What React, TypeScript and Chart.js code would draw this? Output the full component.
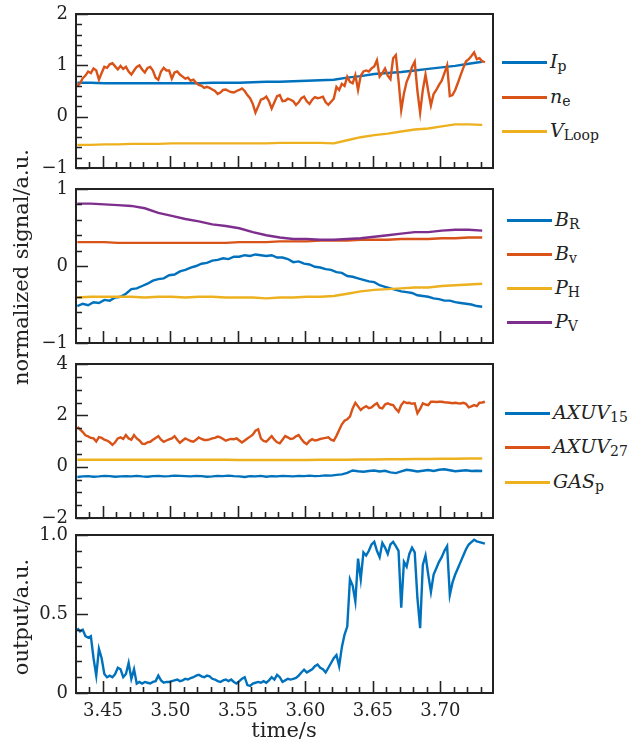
import React, { useEffect, useRef } from 'react';
import { Chart, registerables } from 'chart.js';
Chart.register(...registerables);

// ---------- time bases ----------
const T0 = 3.431;
const STEP_FINE = 0.002; // 152 samples
const STEP_MED = 0.004; // 76 samples
const STEP_COARSE = 0.01; // 31 samples

// ---------- panel 1 ----------
const IP = [0.66, 0.66, 0.65, 0.65, 0.65, 0.65, 0.65, 0.65, 0.65, 0.65, 0.66, 0.66, 0.66, 0.67, 0.68, 0.68, 0.69, 0.70, 0.71, 0.72, 0.76, 0.79, 0.83, 0.85, 0.87, 0.90, 0.93, 0.96, 0.99, 1.03, 1.07];
const NE = [
  0.60, 0.65, 0.75, 0.80, 0.88, 0.85, 0.94, 0.90, 0.72, 0.85,
  0.97, 0.95, 1.02, 1.04, 0.98, 0.92, 0.99, 0.93, 0.97, 0.88,
  0.82, 0.90, 0.97, 1.00, 0.92, 0.86, 0.95, 0.97, 0.90, 0.76,
  0.72, 0.88, 0.95, 0.90, 0.90, 0.74, 0.86, 0.88, 0.82, 0.78,
  0.74, 0.76, 0.70, 0.72, 0.66, 0.62, 0.60, 0.56, 0.58, 0.56,
  0.53, 0.50, 0.44, 0.47, 0.52, 0.53, 0.50, 0.48, 0.47, 0.50,
  0.52, 0.55, 0.50, 0.42, 0.36, 0.25, 0.08, 0.20, 0.33, 0.35,
  0.39, 0.30, 0.16, 0.28, 0.40, 0.42, 0.30, 0.31, 0.35, 0.33,
  0.30, 0.23, 0.28, 0.36, 0.39, 0.30, 0.25, 0.33, 0.38, 0.36,
  0.37, 0.39, 0.28, 0.23, 0.29, 0.35, 0.58, 0.52, 0.64, 0.60,
  0.78, 0.68, 0.65, 0.81, 0.52, 0.80, 0.88, 0.90, 0.88, 0.94,
  0.98, 1.10, 0.78, 0.85, 0.94, 0.80, 0.73, 1.14, 1.20, 0.70,
  0.13, 0.45, 0.68, 0.80, 0.97, 1.07, 0.50, 0.08, 0.52, 0.82,
  0.50, 0.22, 0.44, 0.52, 0.62, 0.70, 0.85, 1.00, 0.40, 0.42,
  0.52, 0.66, 0.81, 0.95, 1.08, 1.12, 1.18, 1.25, 1.12, 1.14,
  1.08, 1.06,
];
const VLOOP = [-0.55, -0.55, -0.54, -0.54, -0.53, -0.53, -0.53, -0.52, -0.52, -0.52, -0.52, -0.52, -0.52, -0.52, -0.52, -0.51, -0.51, -0.51, -0.51, -0.52, -0.46, -0.40, -0.36, -0.33, -0.29, -0.25, -0.23, -0.19, -0.15, -0.15, -0.16];

// ---------- panel 2 ----------
const BR = [
  -0.52, -0.49, -0.51, -0.47, -0.48, -0.44, -0.45, -0.41, -0.40, -0.36,
  -0.30, -0.29, -0.26, -0.23, -0.19, -0.17, -0.16, -0.12, -0.11, -0.07,
  -0.05, -0.02, 0.00, 0.03, 0.04, 0.07, 0.08, 0.10, 0.09, 0.12,
  0.12, 0.14, 0.13, 0.15, 0.14, 0.13, 0.14, 0.11, 0.11, 0.09,
  0.05, 0.06, 0.03, 0.02, -0.01, -0.02, -0.04, -0.05, -0.08, -0.09,
  -0.13, -0.14, -0.16, -0.18, -0.20, -0.21, -0.25, -0.27, -0.29, -0.31,
  -0.33, -0.34, -0.35, -0.38, -0.39, -0.40, -0.42, -0.43, -0.45, -0.45,
  -0.47, -0.48, -0.49, -0.50, -0.52, -0.53,
];
const BV = [0.31, 0.31, 0.31, 0.30, 0.30, 0.30, 0.30, 0.30, 0.30, 0.30, 0.30, 0.30, 0.31, 0.31, 0.31, 0.32, 0.32, 0.32, 0.33, 0.33, 0.33, 0.34, 0.34, 0.34, 0.35, 0.35, 0.35, 0.36, 0.36, 0.37, 0.37];
const PH = [-0.41, -0.40, -0.40, -0.40, -0.40, -0.41, -0.40, -0.40, -0.41, -0.40, -0.40, -0.41, -0.41, -0.41, -0.42, -0.41, -0.41, -0.40, -0.40, -0.39, -0.36, -0.33, -0.31, -0.30, -0.29, -0.28, -0.28, -0.26, -0.25, -0.24, -0.23];
const PV = [0.81, 0.81, 0.80, 0.79, 0.78, 0.75, 0.69, 0.65, 0.61, 0.58, 0.54, 0.52, 0.49, 0.44, 0.40, 0.37, 0.35, 0.35, 0.34, 0.34, 0.35, 0.36, 0.38, 0.40, 0.42, 0.44, 0.44, 0.46, 0.47, 0.47, 0.46];

// ---------- panel 3 ----------
const AXUV15 = [
  -0.40, -0.38, -0.37, -0.39, -0.38, -0.36, -0.37, -0.39, -0.38, -0.37,
  -0.38, -0.36, -0.38, -0.39, -0.37, -0.36, -0.38, -0.37, -0.35, -0.36,
  -0.37, -0.38, -0.36, -0.37, -0.39, -0.38, -0.36, -0.37, -0.35, -0.37,
  -0.38, -0.40, -0.37, -0.38, -0.36, -0.39, -0.37, -0.38, -0.36, -0.37,
  -0.38, -0.36, -0.37, -0.35, -0.37, -0.36, -0.34, -0.35, -0.32, -0.30,
  -0.24, -0.15, -0.18, -0.20, -0.17, -0.15, -0.19, -0.16, -0.22, -0.25,
  -0.18, -0.12, -0.15, -0.19, -0.16, -0.13, -0.17, -0.12, -0.10, -0.14,
  -0.18, -0.16, -0.14, -0.17, -0.16, -0.17,
];
const AXUV27 = [
  1.55, 1.45, 1.35, 1.22, 1.18, 1.12, 1.10, 0.98, 1.15, 1.12,
  1.05, 1.02, 0.95, 0.85, 0.95, 1.10, 1.14, 1.08, 1.23, 1.10,
  1.05, 1.23, 1.10, 1.02, 0.90, 0.88, 0.95, 0.97, 1.05, 1.12,
  1.19, 1.05, 0.97, 1.02, 1.06, 1.10, 1.19, 1.05, 0.93, 1.02,
  1.10, 1.05, 1.00, 0.97, 1.05, 1.14, 1.08, 1.04, 1.04, 1.06,
  1.10, 1.12, 1.17, 1.14, 1.08, 1.01, 1.05, 1.08, 1.07, 1.10,
  1.02, 0.94, 1.02, 1.10, 1.17, 1.25, 1.40, 1.46, 1.10, 1.00,
  0.97, 1.08, 1.19, 1.05, 0.95, 0.91, 1.05, 1.19, 1.14, 1.08,
  1.10, 1.18, 1.23, 1.08, 0.95, 0.88, 1.00, 1.07, 1.02, 1.04,
  1.08, 1.10, 1.12, 1.14, 1.05, 1.01, 1.20, 1.43, 1.65, 1.79,
  1.85, 1.95, 2.27, 2.49, 2.35, 2.21, 2.30, 2.36, 2.28, 2.31,
  2.40, 2.47, 2.30, 2.27, 2.42, 2.47, 2.42, 2.40, 2.25, 2.14,
  2.40, 2.53, 2.48, 2.49, 2.45, 2.47, 2.08, 2.25, 2.47, 2.42,
  2.40, 2.53, 2.53, 2.52, 2.53, 2.53, 2.51, 2.50, 2.49, 2.47,
  2.49, 2.47, 2.46, 2.49, 2.45, 2.31, 2.35, 2.40, 2.36, 2.49,
  2.50, 2.53,
];
const GASP = [0.27, 0.27, 0.27, 0.27, 0.27, 0.27, 0.27, 0.27, 0.27, 0.27, 0.27, 0.27, 0.26, 0.26, 0.26, 0.26, 0.26, 0.26, 0.27, 0.27, 0.27, 0.28, 0.28, 0.29, 0.29, 0.30, 0.30, 0.31, 0.31, 0.32, 0.32];

// ---------- panel 4 ----------
const OUTPUT = [
  0.41, 0.39, 0.40, 0.36, 0.35, 0.36, 0.22, 0.11, 0.28, 0.22,
  0.12, 0.10, 0.11, 0.10, 0.12, 0.16, 0.15, 0.10, 0.12, 0.19,
  0.09, 0.15, 0.06, 0.07, 0.06, 0.07, 0.065, 0.06, 0.07, 0.075,
  0.11, 0.08, 0.065, 0.07, 0.07, 0.075, 0.08, 0.085, 0.075, 0.08,
  0.09, 0.085, 0.095, 0.10, 0.11, 0.115, 0.105, 0.10, 0.11, 0.105,
  0.09, 0.085, 0.075, 0.07, 0.08, 0.085, 0.075, 0.085, 0.07, 0.06,
  0.075, 0.09, 0.10, 0.05, 0.045, 0.06, 0.065, 0.07, 0.065, 0.075,
  0.065, 0.08, 0.10, 0.085, 0.115, 0.10, 0.07, 0.08, 0.09, 0.085,
  0.09, 0.095, 0.11, 0.13, 0.147, 0.13, 0.14, 0.15, 0.17, 0.18,
  0.16, 0.15, 0.13, 0.16, 0.19, 0.22, 0.24, 0.17, 0.29, 0.37,
  0.42, 0.72, 0.68, 0.58, 0.85, 0.72, 0.89, 0.87, 0.90, 0.94,
  0.957, 0.90, 0.86, 0.95, 0.92, 0.88, 0.94, 0.957, 0.93, 0.90,
  0.54, 0.83, 0.80, 0.88, 0.92, 0.89, 0.60, 0.41, 0.81, 0.87,
  0.75, 0.64, 0.75, 0.79, 0.83, 0.86, 0.90, 0.93, 0.62, 0.70,
  0.75, 0.79, 0.83, 0.87, 0.91, 0.94, 0.955, 0.97, 0.96, 0.955,
  0.95, 0.945,
];

// ---------- axes ----------
const X_MIN = 3.43;
const X_MAX = 3.739;
const X_TICKS = [3.45, 3.5, 3.55, 3.6, 3.65, 3.7];
const X_TICK_LABELS = ['3.45', '3.50', '3.55', '3.60', '3.65', '3.70'];

const Y1_TICKS = [-1, 0, 1, 2];
const Y1_LABELS = ['\u22121', '0', '1', '2'];
const Y2_TICKS = [-1, 0, 1];
const Y2_LABELS = ['\u22121', '0', '1'];
const Y3_TICKS = [-2, 0, 2, 4];
const Y3_LABELS = ['\u22122', '0', '2', '4'];
const Y4_TICKS = [0, 0.5, 1];
const Y4_LABELS = ['0', '0.5', '1.0'];

// ---------- styles ----------
const BLUE = '#0072BD';
const ORANGE = '#D95319';
const YELLOW = '#EDB120';
const PURPLE = '#7E2F8E';
const INK = '#222222';
const TICK_FONT = { family: '"DejaVu Serif", serif', size: 18 };

const times = (n: number, step: number) => Array.from({ length: n }, (_, i) => +(T0 + i * step).toFixed(4));

type Series = { name: string; sub: string; values: number[]; step: number; color: string };

const PANELS = [
  {
    top: 14, bottom: 168, yMin: -1, yMax: 2, yTicks: Y1_TICKS, yLabels: Y1_LABELS, yMinor: 0.2,
    legend: { x1: 502, x2: 547, tx: 550, ys: [62, 97, 131] },
    series: [
      { name: 'I', sub: 'p', values: IP, step: STEP_COARSE, color: BLUE },
      { name: 'n', sub: 'e', values: NE, step: STEP_FINE, color: ORANGE },
      { name: 'V', sub: 'Loop', values: VLOOP, step: STEP_COARSE, color: YELLOW },
    ] as Series[],
  },
  {
    top: 189, bottom: 343, yMin: -1, yMax: 1, yTicks: Y2_TICKS, yLabels: Y2_LABELS, yMinor: 0.2,
    legend: { x1: 507, x2: 552, tx: 555, ys: [220, 254, 288, 322] },
    series: [
      { name: 'B', sub: 'R', values: BR, step: STEP_MED, color: BLUE },
      { name: 'B', sub: 'v', values: BV, step: STEP_COARSE, color: ORANGE },
      { name: 'P', sub: 'H', values: PH, step: STEP_COARSE, color: YELLOW },
      { name: 'P', sub: 'V', values: PV, step: STEP_COARSE, color: PURPLE },
    ] as Series[],
  },
  {
    top: 364, bottom: 518, yMin: -2, yMax: 4, yTicks: Y3_TICKS, yLabels: Y3_LABELS, yMinor: 0.5,
    legend: { x1: 505, x2: 550, tx: 553, ys: [413, 447, 482] },
    series: [
      { name: 'AXUV', sub: '15', values: AXUV15, step: STEP_MED, color: BLUE },
      { name: 'AXUV', sub: '27', values: AXUV27, step: STEP_FINE, color: ORANGE },
      { name: 'GAS', sub: 'p', values: GASP, step: STEP_COARSE, color: YELLOW },
    ] as Series[],
  },
  {
    top: 535, bottom: 693, yMin: 0, yMax: 1, yTicks: Y4_TICKS, yLabels: Y4_LABELS, yMinor: 0.1,
    legend: null,
    series: [
      { name: 'output', sub: '', values: OUTPUT, step: STEP_FINE, color: BLUE },
    ] as Series[],
  },
];

const CANVAS_W = 500;
const PLOT_LEFT = 76;
const PLOT_RIGHT = 493;
const PAD = 20;

const frameTicks = {
  id: 'frameTicks',
  afterDatasetsDraw(chart: any, _args: any, opts: any) {
    const { ctx, chartArea: a, scales } = chart;
    const xs = scales.x;
    const ys = scales.y;
    ctx.save();
    ctx.strokeStyle = INK;
    ctx.lineWidth = 1.6;
    ctx.beginPath();
    // x ticks (inward, bottom)
    for (let i = 0; ; i++) {
      const v = 3.44 + i * 0.01;
      if (v > X_MAX + 1e-9) break;
      const major = Math.abs(Math.round(v * 20) - v * 20) < 1e-6;
      const px = Math.round(xs.getPixelForValue(v)) + 0.5;
      ctx.moveTo(px, a.bottom);
      ctx.lineTo(px, a.bottom - (major ? 12 : 6));
    }
    // y ticks (inward, left)
    const n = Math.round((opts.yMax - opts.yMin) / opts.yMinor);
    for (let i = 0; i <= n; i++) {
      const v = opts.yMin + i * opts.yMinor;
      const major = opts.yTicks.some((t: number) => Math.abs(t - v) < 1e-6);
      const py = Math.round(ys.getPixelForValue(v)) + 0.5;
      ctx.moveTo(a.left, py);
      ctx.lineTo(a.left + (major ? 12 : 6), py);
    }
    ctx.stroke();
    ctx.lineWidth = 2;
    ctx.strokeRect(a.left, a.top, a.right - a.left, a.bottom - a.top);
    ctx.restore();
  },
};

function Panel({ cfg, last }: { cfg: any; last: boolean }) {
  const ref = useRef<HTMLCanvasElement>(null);
  const canvasTop = cfg.top - PAD;
  const height = last ? 747 - canvasTop : cfg.bottom - cfg.top + 2 * PAD;
  useEffect(() => {
    const n = cfg.series.length;
    const chart = new Chart(ref.current!, {
      type: 'line',
      data: {
        datasets: cfg.series.map((s: Series, i: number) => {
          const t = times(s.values.length, s.step);
          return {
            label: s.name + s.sub,
            data: s.values.map((v, j) => ({ x: t[j], y: v })),
            borderColor: s.color,
            backgroundColor: s.color,
            borderWidth: 2.4,
            pointRadius: 0,
            tension: 0,
            order: n - i,
          };
        }),
      },
      options: {
        responsive: false,
        maintainAspectRatio: false,
        animation: false,
        layout: { padding: { left: 0, right: CANVAS_W - PLOT_RIGHT, top: PAD, bottom: last ? 0 : PAD } },
        plugins: {
          legend: { display: false },
          tooltip: { enabled: false },
          frameTicks: { yMin: cfg.yMin, yMax: cfg.yMax, yMinor: cfg.yMinor, yTicks: cfg.yTicks },
        } as any,
        scales: {
          x: {
            type: 'linear',
            min: X_MIN,
            max: X_MAX,
            display: last,
            grid: { display: false, drawTicks: false },
            border: { display: false },
            ticks: {
              font: TICK_FONT,
              color: INK,
              padding: 8,
              maxRotation: 0,
              autoSkip: false,
              callback: (_v: any, i: number) => X_TICK_LABELS[i],
            },
            afterBuildTicks: (s: any) => { s.ticks = X_TICKS.map((v) => ({ value: v })); },
            afterFit: (s: any) => { s.height = last ? 54 : 0; },
          },
          y: {
            type: 'linear',
            min: cfg.yMin,
            max: cfg.yMax,
            grid: { display: false, drawTicks: false },
            border: { display: false },
            ticks: {
              font: TICK_FONT,
              color: INK,
              padding: 8,
              autoSkip: false,
              callback: (_v: any, i: number) => cfg.yLabels[i],
            },
            afterBuildTicks: (s: any) => { s.ticks = cfg.yTicks.map((v: number) => ({ value: v })); },
            afterFit: (s: any) => { s.width = PLOT_LEFT; },
          },
        },
      } as any,
      plugins: [frameTicks],
    });
    return () => chart.destroy();
  }, []);
  return (
    <canvas
      ref={ref}
      width={CANVAS_W}
      height={height}
      style={{ position: 'absolute', left: 0, top: canvasTop, width: CANVAS_W, height }}
    />
  );
}

function Legend({ cfg }: { cfg: any }) {
  if (!cfg.legend) return null;
  const L = cfg.legend;
  return (
    <>
      {cfg.series.map((s: Series, i: number) => (
        <React.Fragment key={i}>
          <div style={{ position: 'absolute', left: L.x1, top: L.ys[i] - 1.5, width: L.x2 - L.x1, height: 3, background: s.color }} />
          <div
            style={{
              position: 'absolute', left: L.tx, top: L.ys[i] - 11, whiteSpace: 'nowrap',
              fontFamily: '"DejaVu Serif", serif', fontStyle: 'italic', fontSize: 19, lineHeight: '20px', color: INK,
            }}
          >
            {s.name}
            <span style={{ fontStyle: 'normal', fontSize: 14, position: 'relative', top: 3 }}>{s.sub}</span>
          </div>
        </React.Fragment>
      ))}
    </>
  );
}

const titleStyle: React.CSSProperties = {
  position: 'absolute', whiteSpace: 'nowrap', fontFamily: '"DejaVu Serif", serif', fontSize: 21,
  lineHeight: '21px', color: INK,
};

export default function App() {
  return (
    <div style={{ position: 'absolute', left: 0, top: 0, width: 641, height: 747, background: '#fff', overflow: 'hidden' }}>
      {PANELS.map((p, i) => (
        <Panel key={i} cfg={p} last={i === PANELS.length - 1} />
      ))}
      {PANELS.map((p, i) => (
        <Legend key={'l' + i} cfg={p} />
      ))}
      <div style={{ ...titleStyle, left: 21, top: 267, transform: 'translate(-50%, -50%) rotate(-90deg)' }}>normalized signal/a.u.</div>
      <div style={{ ...titleStyle, left: 21, top: 617, transform: 'translate(-50%, -50%) rotate(-90deg)' }}>output/a.u.</div>
      <div style={{ ...titleStyle, left: 284, top: 730, transform: 'translate(-50%, -50%)' }}>time/s</div>
    </div>
  );
}
